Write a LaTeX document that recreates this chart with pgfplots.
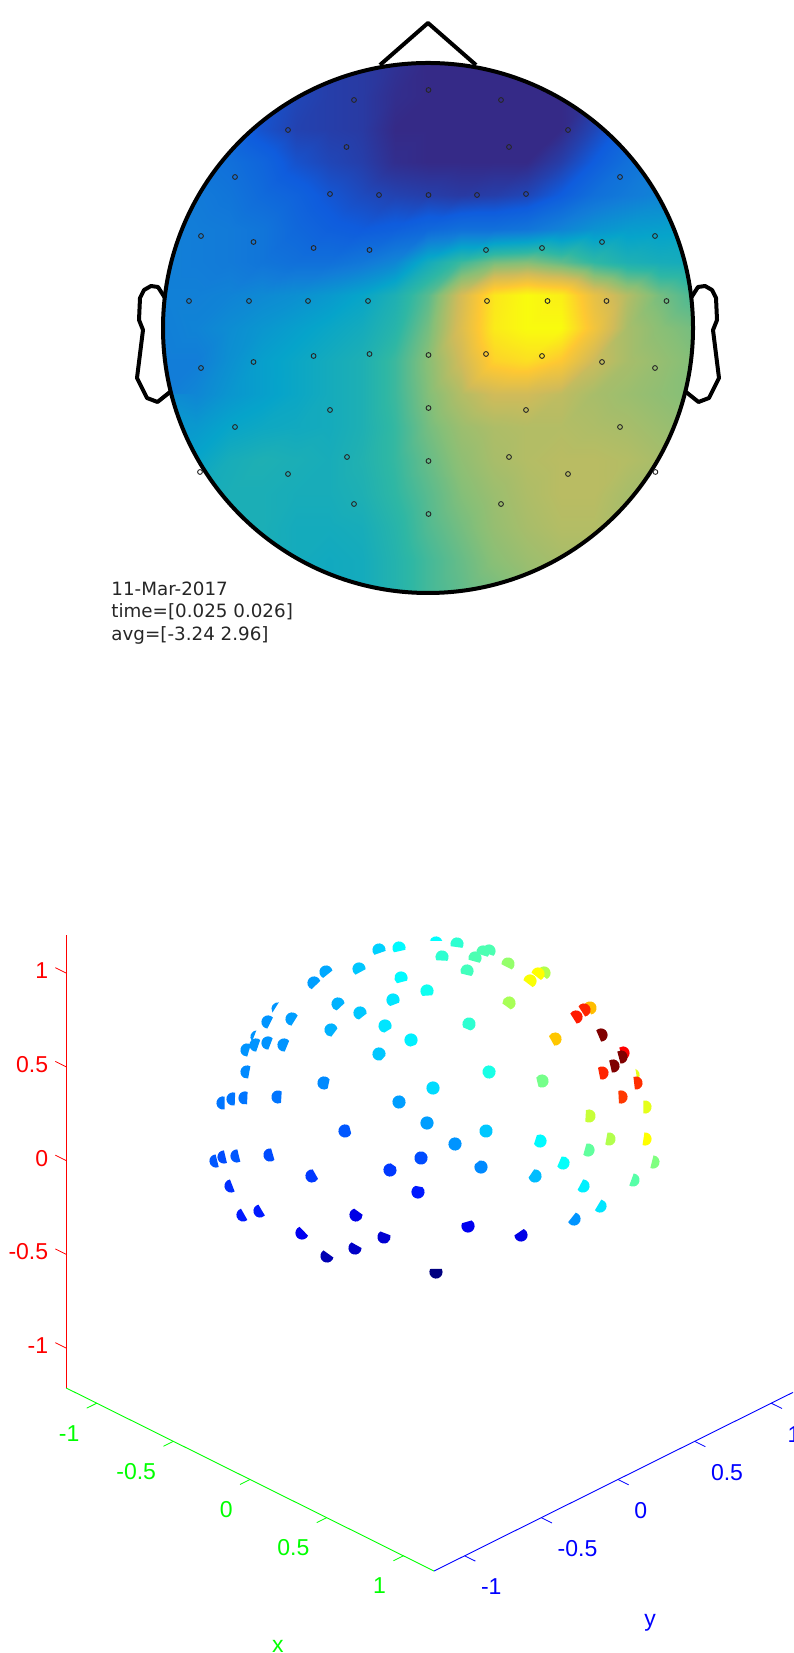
\documentclass[border=0pt]{standalone}
\usepackage{pgfplots}
\usepackage{pgfplotstable}
\usepackage{fontspec}
\setmainfont{Liberation Sans}
\newfontfamily\dejavu{DejaVu Sans}
\pgfplotsset{compat=1.18}
\pgfplotsset{colormap={parula}{rgb255=(53,42,135) rgb255=(15,92,221) rgb255=(18,125,216) rgb255=(6,164,202) rgb255=(46,183,164) rgb255=(135,191,119) rgb255=(209,187,89) rgb255=(254,200,50) rgb255=(249,251,14)}}
\pgfdeclareplotmark{dome}{%
  \pgfscope
  \pgftransformrotate{\rotv}%
  \pgfmathsetmacro\aa{asin(\dv)}%
  \pgfmathsetmacro\st{-\aa}%
  \pgfmathsetmacro\en{180+\aa}%
  \pgfpathmoveto{\pgfpointpolar{\st}{\pgfplotmarksize}}%
  \pgfpatharc{\st}{\en}{\pgfplotmarksize}%
  \pgfpathclose
  \pgfusepathqfill
  \endpgfscope
}
% topography, one row per 33.125 px from y=63 to y=593, 17 values per row
\pgfplotstableread[row sep=\\]{
v\\
.07\\.07\\.07\\.07\\.07\\.05\\.04\\.02\\.0\\.0\\.0\\.0\\.0\\.03\\.1\\.2\\.2\\
.14\\.14\\.14\\.1\\.07\\.05\\.04\\.01\\.0\\.0\\.0\\.0\\.0\\.03\\.12\\.2\\.25\\
.2\\.2\\.18\\.1\\.06\\.05\\.04\\.0\\.0\\.0\\.0\\.0\\.0\\.07\\.15\\.22\\.27\\
.23\\.23\\.2\\.16\\.1\\.07\\.05\\.01\\.0\\.0\\.0\\.0\\.05\\.13\\.2\\.25\\.28\\
.25\\.24\\.22\\.18\\.15\\.11\\.08\\.06\\.05\\.04\\.05\\.07\\.13\\.2\\.24\\.27\\.3\\
.26\\.25\\.24\\.22\\.17\\.14\\.125\\.14\\.17\\.2\\.2\\.22\\.27\\.32\\.35\\.36\\.37\\
.26\\.25\\.24\\.22\\.2\\.2\\.23\\.28\\.42\\.52\\.6\\.62\\.57\\.5\\.45\\.43\\.42\\
.26\\.26\\.27\\.29\\.31\\.34\\.38\\.45\\.56\\.76\\.95\\1\\.97\\.81\\.7\\.6\\.54\\
.26\\.27\\.3\\.33\\.36\\.39\\.42\\.48\\.6\\.78\\.96\\1\\1\\.84\\.68\\.63\\.6\\
.25\\.25\\.31\\.36\\.39\\.42\\.45\\.52\\.63\\.75\\.9\\.93\\.87\\.74\\.68\\.65\\.62\\
.25\\.28\\.33\\.36\\.39\\.42\\.45\\.52\\.62\\.7\\.75\\.75\\.72\\.68\\.66\\.64\\.62\\
.3\\.34\\.38\\.4\\.41\\.42\\.45\\.51\\.6\\.66\\.69\\.7\\.7\\.69\\.68\\.66\\.64\\
.36\\.38\\.43\\.45\\.44\\.43\\.46\\.51\\.58\\.64\\.68\\.7\\.71\\.71\\.7\\.68\\.66\\
.38\\.42\\.44\\.44\\.43\\.43\\.45\\.5\\.56\\.62\\.66\\.69\\.71\\.71\\.68\\.68\\.66\\
.4\\.42\\.44\\.44\\.42\\.42\\.43\\.48\\.55\\.6\\.65\\.68\\.7\\.7\\.68\\.68\\.66\\
.4\\.42\\.44\\.44\\.42\\.41\\.42\\.47\\.53\\.58\\.63\\.66\\.68\\.68\\.68\\.68\\.66\\
.4\\.42\\.44\\.44\\.42\\.41\\.42\\.47\\.53\\.57\\.6\\.64\\.66\\.68\\.68\\.68\\.66\\
}\topo
\pgfplotstableread{
x y
428.5 90
354 100
501 100
288 130
568 130
346.5 147
509 147
235 177
620 177
330 194
379 195
428.5 195
477 195
526 194
201 236
253.5 242
313.6 248
369.5 250
486 250
542 248
602 242
655 236
189 301
249 301
308 301
368 301
487 301
547.5 301
606.5 301
666.5 301
201 368
253.5 362
313.6 356
369.5 354
428.5 355
486 354
542 356
602 362
655 368
330 410
428.5 408
526 410
235 427
620 427
347 457
509 457
428.5 461
288 474
568 474
200 472
655.4 472
354 504
501 504
428.5 514
}\electrodes
% sensor dots: picture position u,v; colour value c; k=1 for a dot nearly hidden
\pgfplotstableread{
u v c k
379 950 .33 0
399 948 .37 0
436 943 .375 1
457 944 .42 0
442 957 .42 0
326 972 .29 0
359 969 .32 0
314 983 .28 0
401 978 .37 0
427 991 .39 0
338 1004 .30 0
393 1000 .35 0
278 1009 .27 1
268 1022 .27 0
292 1019 .28 0
360 1013 .32 0
385 1026 .35 0
331 1030 .30 0
411 1040 .36 0
257 1037 .27 1
256 1045 .27 0
247 1050 .27 0
268 1043 .27 0
284 1045 .27 0
379 1054 .32 0
247 1072 .26 0
324 1083 .26 0
433 1088 .34 0
399 1102 .28 0
223 1103 .24 0
233 1099 .24 0
245 1098 .24 0
278 1097 .24 0
427 1123 .28 0
345 1131 .21 0
421 1158 .2 0
390 1170 .18 0
418 1192 .15 0
216 1161 .21 0
224 1157 .2 0
237 1156 .21 0
270 1155 .2 0
312 1176 .18 0
231 1186 .17 0
243 1215 .15 0
260 1211 .15 0
356 1215 .1 0
302 1233 .11 0
384 1237 .08 0
355 1248 .07 0
327 1256 .05 0
436 1272 0 0
486 1131 .32 0
455 1144 .27 0
481 1167 .26 0
540 1141 .37 0
588 1150 .47 0
563 1163 .38 0
535 1176 .31 0
583 1186 .36 0
633 1180 .46 0
653 1162 .5 0
645 1139 .625 0
609 1139 .55 0
589 1116 .57 0
645 1107 .6 0
621 1097 .82 0
600 1206 .35 0
574 1219 .27 0
468 1226 .11 0
521 1235 .1 0
489 951 .45 0
483 952 .45 0
475 958 .45 0
508 964 .52 0
467 971 .44 0
544 973 .55 0
538 974 .625 0
530 981 .62 0
509 1003 .54 0
590 1008 .69 0
584 1010 .84 0
576 1017 .85 0
469 1024 .42 0
601 1035 1 0
555 1039 .68 0
489 1072 .4 0
623 1053 .875 0
621 1057 1 0
613 1066 1 0
602 1073 .84 0
633 1075 .6 1
636 1083 .83 0
542 1081 .49 0
}\sensors
\begin{document}
\begin{tikzpicture}
\clip (0,0) rectangle (396.5pt,826.5pt);
% ---------- topography
\begin{axis}[
  at={(0pt,486.5pt)},anchor=south west,
  scale only axis,width=396.5pt,height=340pt,
  xmin=0,xmax=793,ymin=0,ymax=680,y dir=reverse,
  hide axis,clip=false,
  colormap name=parula,point meta min=0,point meta max=1,
]
\addplot[surf,shader=interp,mesh/cols=17,point meta=\thisrow{v}]
  table[x index=0,y index=0,x expr={163+33.125*mod(\coordindex,17)},y expr={63+33.125*floor(\coordindex/17)}] {\topo};
\fill[white,even odd rule] (axis cs:150,50) rectangle (axis cs:706,606) (axis cs:428,328) circle [radius=265];
\addplot[only marks,mark=o,mark size=1.2pt,mark options={draw=black!85,line width=.45pt}] table[x=x,y=y] {\electrodes};
\draw[black,line width=2pt] (axis cs:428,328) circle [radius=265];
\addplot[black,line width=2pt,line join=round,no marks] coordinates {(380,65) (428,23) (476,65)};
\addplot[black,line width=2pt,line join=round,no marks] coordinates {(165,298) (158,287) (151,286) (144,290) (140,298) (139,320) (143,330) (137,378) (147,398) (157.5,402) (170,392)};
\addplot[black,line width=2pt,line join=round,no marks] coordinates {(691,298) (698,287) (705,286) (712,290) (716,298) (717,320) (713,330) (719,378) (709,398) (698.5,402) (686,392)};
\node[anchor=west,inner sep=0pt,font=\dejavu\fontsize{9.15}{10}\selectfont,text=black!85] at (axis cs:111,589) {11-Mar-2017};
\node[anchor=west,inner sep=0pt,font=\dejavu\fontsize{9.15}{10}\selectfont,text=black!85] at (axis cs:111,612) {time=[0.025 0.026]};
\node[anchor=west,inner sep=0pt,font=\dejavu\fontsize{9.15}{10}\selectfont,text=black!85] at (axis cs:111,635) {avg=[-3.24 2.96]};
\end{axis}
% ---------- sensors in 3D
\begin{axis}[
  at={(217pt,246.25pt)},anchor=origin,
  x={(76.65pt,-38.15pt)},y={(76.65pt,38.15pt)},z={(0pt,93.75pt)},
  xmin=-1.2,xmax=1.2,ymin=-1.2,ymax=1.2,zmin=-1.213,zmax=1.203,
  clip=false,unbounded coords=jump,
  axis line style={draw=none},
  tick align=outside,tick pos=left,
  xtick={-1,-0.5,0,0.5,1},ytick={-1,-0.5,0,0.5,1},ztick={-1,-0.5,0,0.5,1},
  /pgf/number format/assume math mode=true,
  tick label style={font=\fontsize{11.5}{13}\selectfont},
  major tick length=0pt,
  tick style={draw=none},
  xticklabel style={text=green,anchor=east,inner sep=0pt,xshift=-8.5pt,yshift=-15pt},
  yticklabel style={text=blue,anchor=west,inner sep=0pt,xshift=8pt,yshift=-15.5pt},
  zticklabel style={text=red,anchor=east,inner sep=0pt,xshift=-8.75pt,yshift=1.1pt},
  xlabel={x},ylabel={y},
  xlabel style={text=green,inner sep=0pt,font=\fontsize{11.5}{13}\selectfont,at={(axis cs:0.182,-1.2,-2.03)},anchor=center,rotate=0},
  ylabel style={text=blue,inner sep=0pt,font=\fontsize{11.5}{13}\selectfont,at={(axis cs:1.2,0.209,-2.06)},anchor=center,rotate=0},
  colormap/jet,point meta min=0,point meta max=1,
]
\addplot3[green,line width=.45pt,no marks] coordinates {(-1.2,-1.2,-1.213) (1.2,-1.2,-1.213)};
\addplot3[blue,line width=.45pt,no marks] coordinates {(1.2,-1.2,-1.213) (1.2,1.2,-1.213)};
\addplot3[red,line width=.45pt,no marks] coordinates {(-1.2,-1.2,-1.213) (-1.2,-1.2,1.203)};
\addplot3[green,line width=.4pt,no marks] coordinates {(-1,-1.2,-1.213) (-1,-1.265,-1.213) (-1,-1.2,nan) (-.5,-1.2,-1.213) (-.5,-1.265,-1.213) (-.5,-1.2,nan) (0,-1.2,-1.213) (0,-1.265,-1.213) (0,-1.2,nan) (.5,-1.2,-1.213) (.5,-1.265,-1.213) (.5,-1.2,nan) (1,-1.2,-1.213) (1,-1.265,-1.213)};
\addplot3[blue,line width=.4pt,no marks] coordinates {(1.2,-1,-1.213) (1.27,-1,-1.213) (1.2,-1,nan) (1.2,-.5,-1.213) (1.27,-.5,-1.213) (1.2,-.5,nan) (1.2,0,-1.213) (1.27,0,-1.213) (1.2,0,nan) (1.2,.5,-1.213) (1.27,.5,-1.213) (1.2,.5,nan) (1.2,1,-1.213) (1.27,1,-1.213)};
\addplot3[red,line width=.4pt,no marks] coordinates {(-1.2,-1.2,-1) (-1.27,-1.2,-1) (-1.2,-1.2,nan) (-1.2,-1.2,-.5) (-1.27,-1.2,-.5) (-1.2,-1.2,nan) (-1.2,-1.2,0) (-1.27,-1.2,0) (-1.2,-1.2,nan) (-1.2,-1.2,.5) (-1.27,-1.2,.5) (-1.2,-1.2,nan) (-1.2,-1.2,1) (-1.27,-1.2,1)};
\addplot3[scatter,only marks,mark=dome,mark size=3.3pt,
  point meta=\thisrow{c},
  visualization depends on={atan2(1107-\thisrow{v},\thisrow{u}-434)-90 \as \rotv},
  visualization depends on={max(-0.9,min(1,1.25-veclen(\thisrow{u}-434,\thisrow{v}-1107)/210-0.8*\thisrow{k})) \as \dv},
] table[x expr={(\thisrow{u}-434)/306.6},y expr={(\thisrow{u}-434)/306.6},z expr={(1160.5-\thisrow{v})/187.5}] {\sensors};
\end{axis}
\end{tikzpicture}
\end{document}
